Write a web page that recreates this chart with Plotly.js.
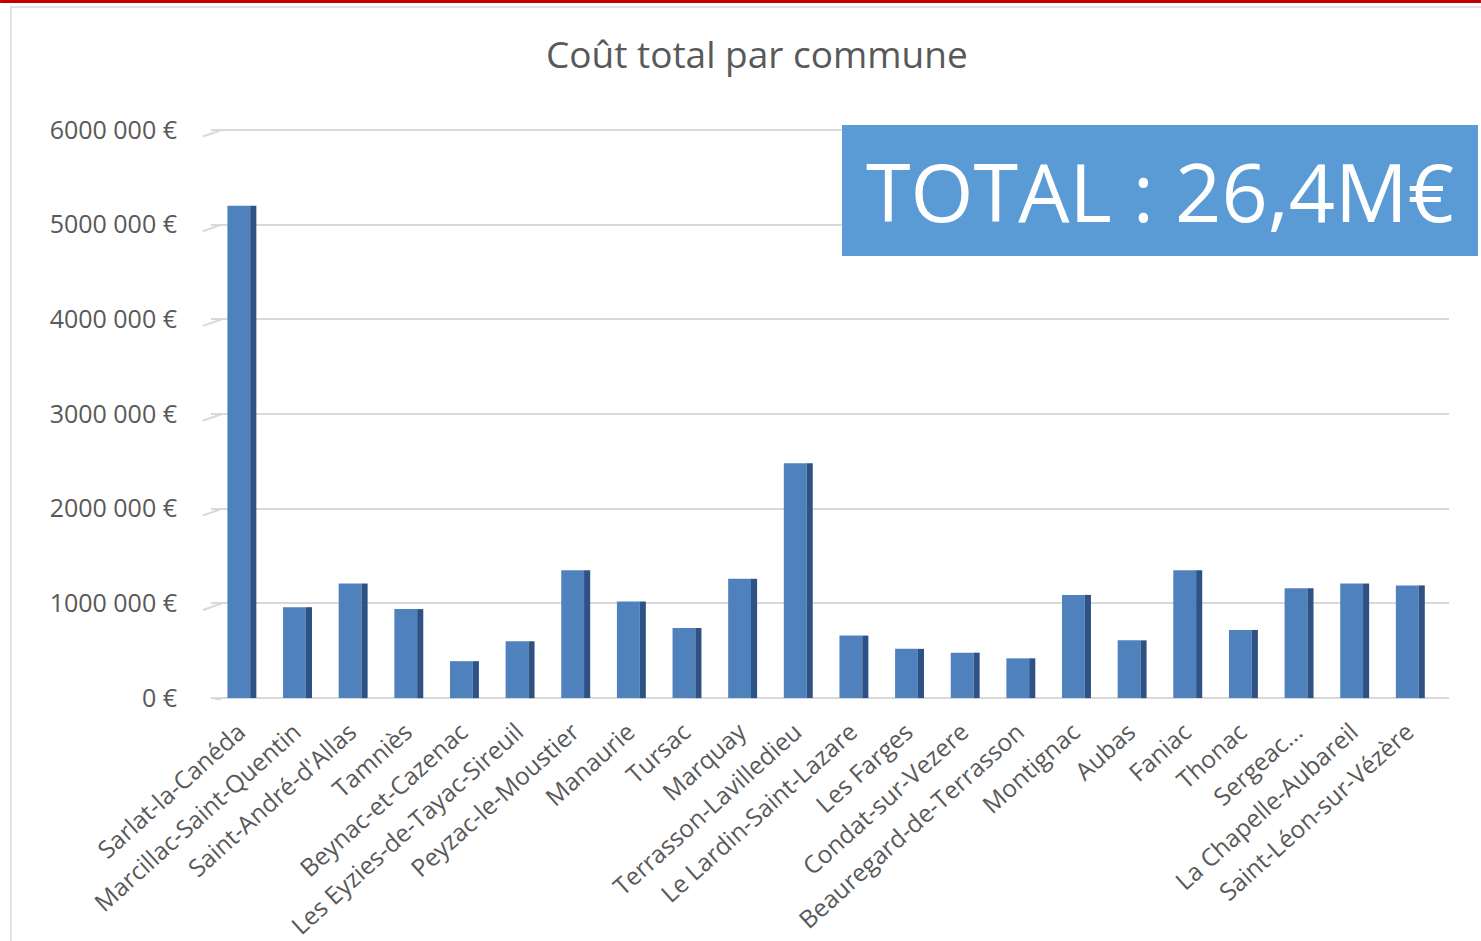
<!DOCTYPE html>
<html>
<head>
<meta charset="utf-8">
<script src="https://cdn.plot.ly/plotly-3.0.1.min.js"></script>
<style>html,body{margin:0;padding:0;background:#fff;}#chart{width:1481px;height:941px;}</style>
</head>
<body>
<div id="chart"></div>
<script>
const communes = ["Sarlat-la-Canéda","Marcillac-Saint-Quentin","Saint-André-d'Allas","Tamniès","Beynac-et-Cazenac","Les Eyzies-de-Tayac-Sireuil","Peyzac-le-Moustier","Manaurie","Tursac","Marquay","Terrasson-Lavilledieu","Le Lardin-Saint-Lazare","Les Farges","Condat-sur-Vezere","Beauregard-de-Terrasson","Montignac","Aubas","Faniac","Thonac","Sergeac...","La Chapelle-Aubareil","Saint-Léon-sur-Vézère"];
const couts = [5200000, 960000, 1210000, 940000, 390000, 600000, 1350000, 1020000, 740000, 1260000, 2480000, 660000, 520000, 480000, 420000, 1090000, 610000, 1350000, 720000, 1160000, 1210000, 1190000];
const yTickVals = [0, 1000000, 2000000, 3000000, 4000000, 5000000, 6000000];
const yTickText = ["0 €", "1000 000 €", "2000 000 €", "3000 000 €", "4000 000 €", "5000 000 €", "6000 000 €"];
const titre = "Coût total par commune";
const totalTexte = "TOTAL : 26,4M€";

const txtColor = "#595959";
const fontFam = "'Open Sans', 'Noto Sans', sans-serif";

const front = {
  type: "bar", x: communes, y: couts,
  width: 0.41, offset: -0.205,
  marker: {color: "#4f81bd", line: {width: 0}},
  hoverinfo: "x+y", showlegend: false
};
const side = {
  type: "bar", x: communes, y: couts,
  width: 0.11, offset: 0.205,
  marker: {color: "#2e5283", line: {width: 0}},
  hoverinfo: "skip", showlegend: false
};

// small slanted floor segments at the left end of each gridline
const slantShapes = yTickVals.map(v => ({
  type: "line", xref: "paper", yref: "y",
  x0: -0.0065, x1: 0.0089, y0: v - 70000, y1: v,
  line: {color: "#d9d9d9", width: 2}, layer: "below"
}));

const layout = {
  width: 1481, height: 941,
  margin: {l: 211, r: 32, t: 128, b: 241},
  paper_bgcolor: "#ffffff", plot_bgcolor: "rgba(0,0,0,0)",
  barmode: "overlay",
  font: {family: fontFam, color: txtColor},
  title: {text: titre, x: 0.511, xref: "container", y: 0.9416, yref: "container", yanchor: "middle", xanchor: "center",
          font: {family: fontFam, size: 37, color: txtColor}},
  xaxis: {type: "category", range: [-0.5, 21.75], tickangle: -42, showgrid: false, zeroline: false, showline: false,
          ticks: "", ticklabelstandoff: 12, tickfont: {family: fontFam, size: 24.5, color: txtColor}, fixedrange: true},
  yaxis: {range: [-20000, 6020000], tickvals: yTickVals, ticktext: yTickText, showgrid: true, gridcolor: "#d9d9d9", gridwidth: 2,
          zeroline: false, showline: false, ticks: "", ticklabelstandoff: 33,
          tickfont: {family: fontFam, size: 25, color: txtColor}, fixedrange: true},
  shapes: [
    {type: "rect", xref: "paper", yref: "paper", x0: -0.1616, x1: 1.04, y0: -0.6, y1: 1.2115,
     line: {color: "#d9d9d9", width: 1.5}, fillcolor: "rgba(0,0,0,0)", layer: "below"},
    {type: "rect", xref: "paper", yref: "paper", x0: -0.1704, x1: 1.0258, y0: 1.2185, y1: 1.2238,
     line: {width: 0}, fillcolor: "#c00000"},
    ...slantShapes,
    {type: "rect", xref: "paper", yref: "paper", x0: 0.5097, x1: 1.0234, y0: 0.7762, y1: 1.0052,
     line: {width: 0}, fillcolor: "#5b9bd5", layer: "above"}
  ],
  annotations: [
    {xref: "paper", yref: "paper", x: 0.7666, y: 0.8899, xanchor: "center", yanchor: "middle", showarrow: false,
     text: totalTexte, font: {family: fontFam, size: 81, color: "#ffffff"}}
  ]
};

Plotly.newPlot("chart", [front, side], layout, {displayModeBar: false, staticPlot: true});
</script>
</body>
</html>
